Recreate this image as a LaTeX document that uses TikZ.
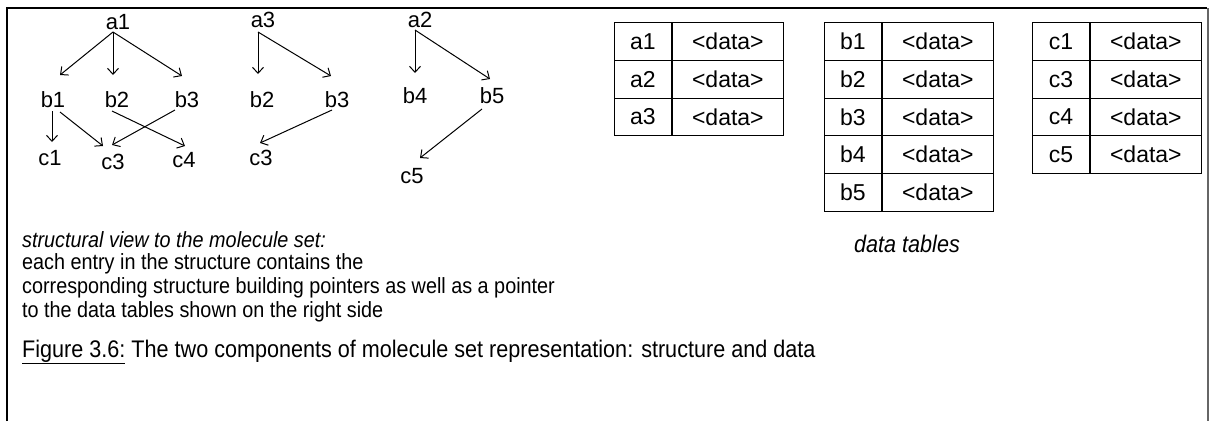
\documentclass[tikz,border=0pt]{standalone}
\usepackage{fontspec}
\setmainfont{Liberation Sans}
\newfontfamily\narrowfont[FakeStretch=0.9]{Liberation Sans}
\usetikzlibrary{arrows.meta,positioning,calc}
\newcommand\figfont{\fontsize{23}{29}\selectfont}
\newcommand\notefont{\narrowfont\fontsize{22}{24}\selectfont}

\begin{document}
\begin{tikzpicture}[x=1pt,y=-1pt,font=\figfont,
    lbl/.style={inner sep=0pt,font=\fontsize{22}{26}\selectfont},
    keycell/.style={draw,line width=0.9pt,minimum width=57pt,minimum height=37.8pt,
                    inner sep=0pt,anchor=north west},
    datacell/.style={draw,line width=0.9pt,minimum width=111pt,minimum height=37.8pt,
                     inner sep=0pt},
    arr/.style={-{Straight Barb[length=6pt,width=11pt]},line width=1pt},
    note/.style={inner sep=0pt,align=left,font=\notefont}]
  \useasboundingbox (0,0) rectangle (1210,421);
  % frame
  \draw[line width=2.6pt] (7,421) -- (7,8) -- (1207,8);
  \draw[line width=1.4pt,black!60] (1208,8) -- (1208,421);
  % structural view
  \node[lbl] (a1) at (118,22) {a1};
  \node[lbl] (a3) at (263,20) {a3};
  \node[lbl] (a2) at (420,20) {a2};
  \node[lbl] (b1) at (53,100) {b1};
  \node[lbl] (b2) at (117,100) {b2};
  \node[lbl] (b3) at (187,100) {b3};
  \node[lbl] (b2r) at (262,100) {b2};
  \node[lbl] (b3r) at (337,100) {b3};
  \node[lbl] (b4) at (415,96) {b4};
  \node[lbl] (b5) at (492,96) {b5};
  \node[lbl] (c1) at (50,158) {c1};
  \node[lbl] (c3) at (113,162) {c3};
  \node[lbl] (c4) at (184,160) {c4};
  \node[lbl] (c3r) at (261,158) {c3};
  \node[lbl] (c5) at (412,176) {c5};
  \draw[arr] ($(a1)+(-5,10)$) -- ($(b1)+(7,-25)$);
  \draw[arr] ($(a1)+(-5,10)$) -- ($(b2)+(-4,-25)$);
  \draw[arr] ($(a1)+(-5,10)$) -- ($(b3)+(-5,-24)$);
  \draw[arr] ($(a3)+(-5,12)$) -- ($(b2r)+(-4,-26)$);
  \draw[arr] ($(a3)+(-5,12)$) -- ($(b3r)+(-6,-24)$);
  \draw[arr] ($(a2)+(-5,10)$) -- ($(b4)+(0,-23)$);
  \draw[arr] ($(a2)+(-5,10)$) -- ($(b5)+(-2,-17)$);
  \draw[arr] ($(b1)+(-1,11)$) -- ($(c1)+(2,-16)$);
  \draw[arr] ($(b1)+(7,12)$) -- ($(c3)+(-10,-16)$);
  \draw[arr] ($(b3)+(-12,10)$) -- ($(c3)+(-1,-17)$);
  \draw[arr] ($(b2)+(-5,11)$) -- ($(c4)+(1,-14)$);
  \draw[arr] ($(b3r)+(-5,10)$) -- ($(c3r)+(-1,-15)$);
  \draw[arr] ($(b5)+(-10,13)$) -- ($(c5)+(8,-18)$);
  % data tables
  \foreach \k [count=\i] in {a1,a2,a3} {
    \node[keycell] (ka\i) at (614,{22+37.8*(\i-1)}) {\k};
    \node[datacell,right=0pt of ka\i] (da\i) {<data>};
  }
  \foreach \k [count=\i] in {b1,b2,b3,b4,b5} {
    \node[keycell] (kb\i) at (824,{22+37.8*(\i-1)}) {\k};
    \node[datacell,right=0pt of kb\i] (db\i) {<data>};
  }
  \foreach \k [count=\i] in {c1,c3,c4,c5} {
    \node[keycell] (kc\i) at (1032,{22+37.8*(\i-1)}) {\k};
    \node[datacell,right=0pt of kc\i] (dc\i) {<data>};
  }
  % texts
  \node[note,anchor=base west,font=\notefont\itshape] (view) at (22,247)
    {structural view to the molecule set:};
  \node[note,anchor=base,font=\narrowfont\fontsize{24}{28}\selectfont\itshape] (tabs) at (907,252)
    {data tables};
  \node[note,anchor=north west] (body) at (22,253)
    {each entry in the structure contains the\\
     corresponding structure building pointers as well as a pointer\\
     to the data tables shown on the right side};
  \node[note,anchor=base west,font=\narrowfont\fontsize{24}{28}\selectfont] (cap) at (22,357)
    {\underline{Figure 3.6:} The two components of molecule set representation: structure and data};
\end{tikzpicture}
\end{document}
